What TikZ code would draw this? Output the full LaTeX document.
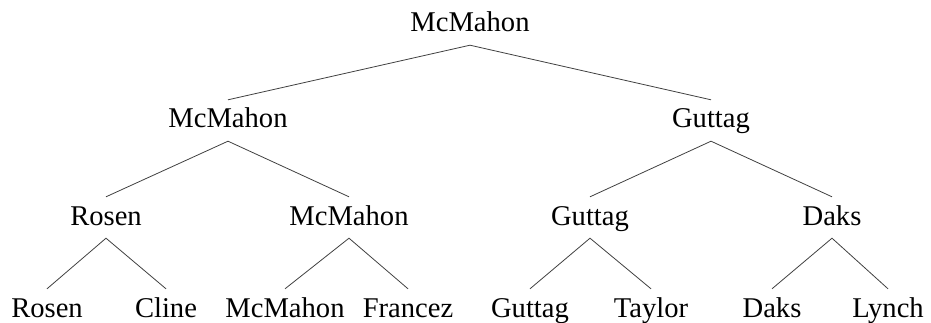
\documentclass[tikz,border=0pt]{standalone}
\usepackage{fontspec}
\setmainfont{Liberation Serif}
\begin{document}
\begin{tikzpicture}[x=1pt,y=1pt,
  nm/.style={anchor=base, inner xsep=0pt, inner ysep=7pt, text height=21pt, text depth=6pt,
    font=\fontsize{28.6}{34}\selectfont},
  edge/.style={draw=black!75, line width=0.8pt}]
\useasboundingbox (0,0) rectangle (931,-323);
% root
\node[nm] (r) at (470,-32) {McMahon};
% level 1
\node[nm] (a) at (228,-128) {McMahon};
\node[nm] (b) at (711,-128) {Guttag};
% level 2
\node[nm] (a1) at (106,-225) {Rosen};
\node[nm] (a2) at (349,-225) {McMahon};
\node[nm] (b1) at (590,-225) {Guttag};
\node[nm] (b2) at (832,-225) {Daks};
% leaves
\node[nm] (l1) at (47,-317) {Rosen};
\node[nm] (l2) at (166,-317) {Cline};
\node[nm] (l3) at (285,-317) {McMahon};
\node[nm] (l4) at (408,-317) {Francez};
\node[nm] (l5) at (530,-317) {Guttag};
\node[nm] (l6) at (651,-317) {Taylor};
\node[nm] (l7) at (772,-317) {Daks};
\node[nm] (l8) at (888,-317) {Lynch};
% edges
\draw[edge] (a.north) -- (r.south) -- (b.north);
\draw[edge] (a1.north) -- (a.south) -- (a2.north);
\draw[edge] (b1.north) -- (b.south) -- (b2.north);
\draw[edge] (l1.north) -- (a1.south) -- (l2.north);
\draw[edge] (l3.north) -- (a2.south) -- (l4.north);
\draw[edge] (l5.north) -- (b1.south) -- (l6.north);
\draw[edge] (l7.north) -- (b2.south) -- (l8.north);
\end{tikzpicture}
\end{document}
